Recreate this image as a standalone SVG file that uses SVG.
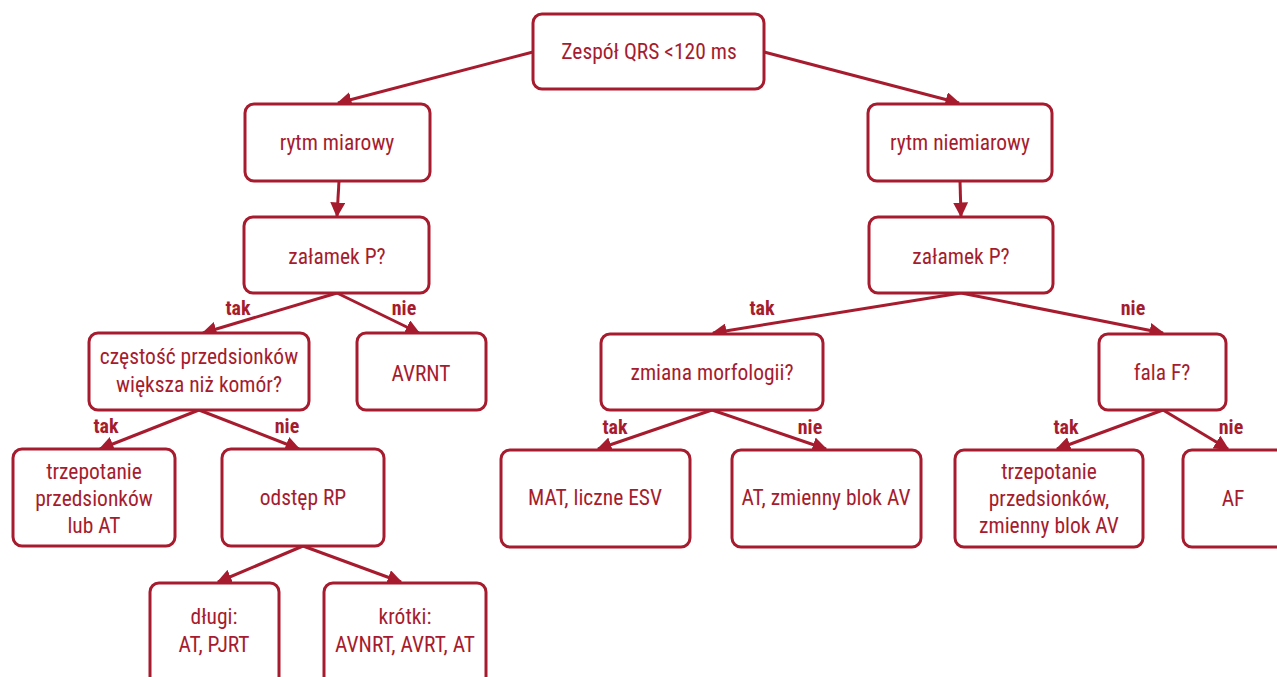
<svg xmlns="http://www.w3.org/2000/svg" width="1277" height="677" viewBox="0 0 1277 677">
<style>
.n rect{fill:#fff;stroke:#a61c2e;stroke-width:3}
.t{font-family:"Liberation Sans Narrow","Roboto Condensed","Liberation Sans",sans-serif;font-size:21.5px;fill:#a61c2e;text-anchor:middle}
.l{font-family:"Liberation Sans Narrow","Roboto Condensed","Liberation Sans",sans-serif;font-size:20px;font-weight:bold;fill:#a61c2e;text-anchor:middle}
.c line{stroke:#a61c2e;stroke-width:3;marker-end:url(#a)}
</style>
<defs>
<marker id="a" viewBox="0 0 10 10" refX="9" refY="5" markerWidth="5" markerHeight="5" orient="auto" markerUnits="strokeWidth">
<path d="M0,0L10,5L0,10z" fill="#a61c2e"/>
</marker>
</defs>
<rect width="1277" height="677" fill="#fff"/>
<g class="c">
<line x1="533" y1="52" x2="338" y2="103"/>
<line x1="764" y1="52" x2="959" y2="103"/>
<line x1="339" y1="181" x2="337" y2="216"/>
<line x1="960" y1="181" x2="961" y2="216"/>
<line x1="337" y1="293" x2="203" y2="333"/>
<line x1="337" y1="293" x2="419" y2="333"/>
<line x1="961" y1="293" x2="713" y2="333"/>
<line x1="961" y1="293" x2="1163" y2="333"/>
<line x1="199" y1="410" x2="100" y2="449"/>
<line x1="199" y1="410" x2="299" y2="449"/>
<line x1="303" y1="546" x2="218" y2="582"/>
<line x1="303" y1="546" x2="401" y2="582"/>
<line x1="712" y1="410" x2="598" y2="449"/>
<line x1="712" y1="410" x2="826" y2="449"/>
<line x1="1163" y1="410" x2="1057" y2="449"/>
<line x1="1163" y1="410" x2="1228" y2="449"/>
</g>
<g class="l">
<text x="238" y="315">tak</text>
<text x="404" y="315">nie</text>
<text x="762" y="315">tak</text>
<text x="1133" y="315">nie</text>
<text x="106" y="433">tak</text>
<text x="287" y="433">nie</text>
<text x="615" y="434">tak</text>
<text x="810" y="434">nie</text>
<text x="1066" y="434">tak</text>
<text x="1231" y="434">nie</text>
</g>
<g id="n1" class="n"><rect x="533" y="14" width="231" height="75" rx="9"/><text class="t" x="649" y="59">Zespół QRS &lt;120 ms</text></g>
<g id="n2" class="n"><rect x="245" y="104" width="185" height="77" rx="9"/><text class="t" x="337" y="150">rytm miarowy</text></g>
<g id="n3" class="n"><rect x="868" y="104" width="184" height="77" rx="9"/><text class="t" x="960" y="150">rytm niemiarowy</text></g>
<g id="n4" class="n"><rect x="244" y="217" width="185" height="76" rx="9"/><text class="t" x="337" y="264">załamek P?</text></g>
<g id="n5" class="n"><rect x="869" y="217" width="184" height="76" rx="9"/><text class="t" x="961" y="264">załamek P?</text></g>
<g id="n6" class="n"><rect x="89" y="333" width="220" height="77" rx="9"/><text class="t" x="199" y="364">częstość przedsionków</text><text class="t" x="199" y="392">większa niż komór?</text></g>
<g id="n7" class="n"><rect x="357" y="333" width="129" height="77" rx="9"/><text class="t" x="421" y="381">AVRNT</text></g>
<g id="n8" class="n"><rect x="601" y="334" width="222" height="76" rx="9"/><text class="t" x="712" y="380">zmiana morfologii?</text></g>
<g id="n9" class="n"><rect x="1099" y="334" width="127" height="76" rx="9"/><text class="t" x="1162" y="380">fala F?</text></g>
<g id="n10" class="n"><rect x="13" y="449" width="162" height="97" rx="9"/><text class="t" x="94" y="479">trzepotanie</text><text class="t" x="94" y="506">przedsionków</text><text class="t" x="94" y="533">lub AT</text></g>
<g id="n11" class="n"><rect x="222" y="449" width="162" height="97" rx="9"/><text class="t" x="303" y="505">odstęp RP</text></g>
<g id="n12" class="n"><rect x="501" y="450" width="189" height="97" rx="9"/><text class="t" x="595" y="505">MAT, liczne ESV</text></g>
<g id="n13" class="n"><rect x="732" y="450" width="189" height="97" rx="9"/><text class="t" x="826" y="505">AT, zmienny blok AV</text></g>
<g id="n14" class="n"><rect x="955" y="450" width="188" height="97" rx="9"/><text class="t" x="1049" y="479">trzepotanie</text><text class="t" x="1049" y="506">przedsionków,</text><text class="t" x="1049" y="533">zmienny blok AV</text></g>
<g id="n15" class="n"><rect x="1183" y="450" width="110" height="97" rx="9"/><text class="t" x="1233" y="506">AF</text></g>
<g id="n16" class="n"><rect x="150" y="583" width="129" height="110" rx="9"/><text class="t" x="214" y="624">długi:</text><text class="t" x="214" y="652">AT, PJRT</text></g>
<g id="n17" class="n"><rect x="324" y="583" width="162" height="110" rx="9"/><text class="t" x="405" y="624">krótki:</text><text class="t" x="405" y="652">AVNRT, AVRT, AT</text></g>
</svg>
